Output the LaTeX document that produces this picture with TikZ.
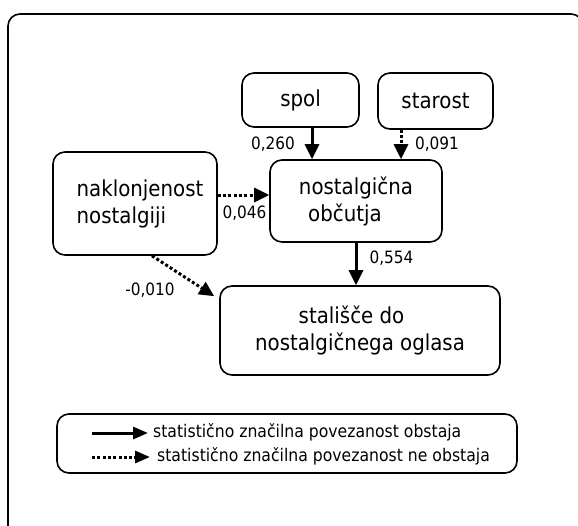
\documentclass[tikz,border=0pt]{standalone}
\usepackage{fontspec}
\setmainfont{DejaVu Sans}[FakeStretch=0.9]
\usetikzlibrary{arrows.meta}
\begin{document}
\begin{tikzpicture}[x=1pt,y=-1pt,
  box/.style={draw=black, line width=1.6pt, rounded corners=12pt, inner sep=0pt,
    font=\fontsize{22}{27}\selectfont},
  lbl/.style={anchor=base, inner sep=0pt, font=\fontsize{17}{20}\selectfont},
  legtext/.style={anchor=base west, inner sep=0pt, font=\fontsize{17.4}{20}\selectfont},
  sig/.style={line width=3pt, -{Triangle[length=15pt,width=14pt]}},
  nsig/.style={line width=3pt, dash pattern=on 3pt off 2.3pt, -{Triangle[length=15pt,width=14pt]}},
  legsig/.style={line width=3pt, -{Triangle[length=15pt,width=12pt]}},
  legnsig/.style={line width=3pt, dash pattern=on 3pt off 2.3pt, -{Triangle[length=15pt,width=12pt]}},
]
\clip (0,0) rectangle (578,525);
\useasboundingbox (0,0) rectangle (578,525);

% outer frame
\draw[line width=1.6pt, rounded corners=12pt] (8,14) rectangle (583,560);

% variables
\node[box, minimum width=117pt, minimum height=54pt] (spol) at (300.5,100) {spol};
\node[box, minimum width=115pt, minimum height=56pt] (starost) at (435.5,101) {starost};
\node[box, minimum width=172pt, minimum height=82pt, align=center] (nost) at (356,201)
  {nostalgična\\občutja\hspace*{22pt}};
\node[box, minimum width=164pt, minimum height=103pt, align=left] (nakl) at (135,203.5)
  {\hspace*{10pt}naklonjenost\\\hspace*{10pt}nostalgiji};
\node[box, minimum width=280pt, minimum height=89pt, align=center] (stal) at (360,330.5)
  {stališče do\hspace*{17pt}\\nostalgičnega oglasa};

% paths
\draw[sig] ([xshift=11.5pt]spol.south) coordinate (a1) -- (a1 |- nost.north);
\draw[nsig] ([xshift=-34.5pt]starost.south) coordinate (a2) -- (a2 |- nost.north);
\draw[nsig] ([yshift=8.5pt]nakl.east) coordinate (a3) -- (a3 -| nost.west);
\draw[nsig] ([xshift=17pt]nakl.south) -- ([xshift=-5pt,yshift=-11pt]stal.north west);
\draw[sig] (nost.south) -- (nost.south |- stal.north);

% coefficients
\node[lbl] (l260) at (273,149) {0,260};
\node[lbl] (l091) at (437,149) {0,091};
\node[lbl] (l046) at (244.5,218) {0,046};
\node[lbl] (l010) at (150,295) {-0,010};
\node[lbl] (l554) at (391.5,263) {0,554};

% legend
\node[box, minimum width=460pt, minimum height=59pt] (legend) at (287,443.5) {};
\node[legtext] (lt1) at (153,437) {statistično značilna povezanost obstaja};
\node[legtext] (lt2) at (157,461) {statistično značilna povezanost ne obstaja};
\coordinate (ls1) at (92,433);
\coordinate (ls2) at (92,457);
\draw[legsig, shorten >=5pt] (ls1) -- (ls1 -| lt1.west);
\draw[legnsig, shorten >=7pt] (ls2) -- (ls2 -| lt2.west);
\end{tikzpicture}
\end{document}
